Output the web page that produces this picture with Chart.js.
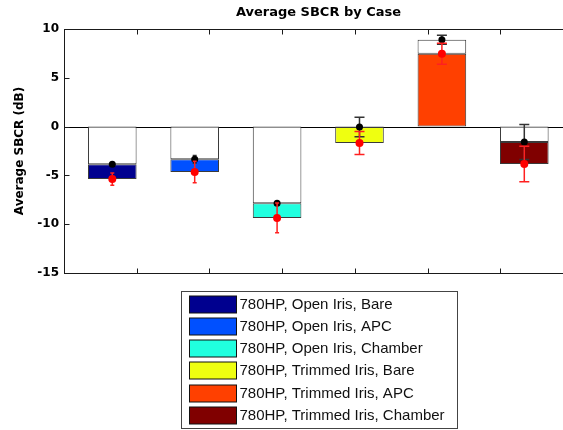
<!DOCTYPE html>
<html>
<head>
<meta charset="utf-8">
<title>Average SBCR by Case</title>
<script src="https://cdn.jsdelivr.net/npm/chart.js@4.4.1/dist/chart.umd.min.js"></script>
<style>
    html, body { margin: 0; padding: 0; background: #fff; }
    body { width: 563px; height: 430px; overflow: hidden; }
    canvas { display: block; }
</style>
</head>
<body>
<canvas id="sbcrChart" width="600" height="430"></canvas>
<script>
// ============================================================================
// DATA
// ============================================================================

const caseLabels = [
    '780HP, Open Iris, Bare',
    '780HP, Open Iris, APC',
    '780HP, Open Iris, Chamber',
    '780HP, Trimmed Iris, Bare',
    '780HP, Trimmed Iris, APC',
    '780HP, Trimmed Iris, Chamber'
];
const caseIndex = [1, 2, 3, 4, 5, 6];

// black markers / white bars
const blackMeans = [-3.86, -3.35, -7.86, -0.05, 8.9, -1.58];
const blackErrors = [0.15, 0.4, 0.15, 1.0, 0.45, 1.8];

// red markers / coloured bars
const redMeans = [-5.38, -4.65, -9.36, -1.68, 7.47, -3.83];
const redErrors = [0.63, 1.1, 1.52, 1.17, 1.08, 1.82];

const yTicks = [10, 5, 0, -5, -10, -15];
const xTickMarks = [0, 1, 2, 3, 4, 5, 6, 7];

// styles
const caseColors = ['#00008f', '#0050ff', '#20ffdf', '#efff10', '#ff4000', '#800000'];
const capHalfWidths = [2, 2, 2, 5, 5, 5];

const TICK_FONT = 'DejaVu Sans';
const LEGEND_FONT = 'Liberation Sans';

// ============================================================================
// BAR SEGMENTS (white part and coloured part of each case)
// ============================================================================

function buildSegments() {
    const white = [];
    const colored = [];
    blackMeans.forEach((b, i) => {
        const r = redMeans[i];
        const x = caseIndex[i];
        if (Math.abs(b) <= Math.abs(r)) {
            white.push({ x: x, y: [0, b] });
            colored.push({ x: x, y: [b, r] });
        } else {
            colored.push({ x: x, y: [0, r] });
            white.push({ x: x, y: [r, b] });
        }
    });
    return { white, colored };
}

// ============================================================================
// PLUGINS
// ============================================================================

// error bars drawn just before their marker dataset
const errorBars = {
    id: 'errorBars',
    beforeDatasetDraw(chart, args) {
        const ds = chart.data.datasets[args.index];
        if (!ds.errors) return;
        const { ctx, scales } = chart;
        ctx.save();
        ctx.strokeStyle = ds.errorColor;
        ctx.lineWidth = 1.5;
        args.meta.data.forEach((pt, i) => {
            const v = ds.data[i].y;
            const e = ds.errors[i];
            const yHi = scales.y.getPixelForValue(v + e);
            const yLo = scales.y.getPixelForValue(v - e);
            const w = capHalfWidths[i];
            ctx.beginPath();
            ctx.moveTo(pt.x, yHi);
            ctx.lineTo(pt.x, yLo);
            ctx.moveTo(pt.x - w, yHi);
            ctx.lineTo(pt.x + w, yHi);
            ctx.moveTo(pt.x - w, yLo);
            ctx.lineTo(pt.x + w, yLo);
            ctx.stroke();
        });
        ctx.restore();
    }
};

// zero baseline, box and inward tick marks
const axesFrame = {
    id: 'axesFrame',
    beforeDatasetsDraw(chart) {
        const { ctx, chartArea: a, scales } = chart;
        const y0 = Math.round(scales.y.getPixelForValue(0)) + 0.5;
        ctx.save();
        ctx.strokeStyle = '#000';
        ctx.lineWidth = 1;
        ctx.beginPath();
        ctx.moveTo(a.left, y0);
        ctx.lineTo(a.right, y0);
        ctx.stroke();
        ctx.restore();
    },
    afterDatasetsDraw(chart) {
        const { ctx, chartArea: a, scales } = chart;
        const L = Math.round(a.left) + 0.5;
        const R = Math.round(a.right) + 0.5;
        const T = Math.round(a.top) + 0.5;
        const B = Math.round(a.bottom) + 0.5;
        ctx.save();
        ctx.strokeStyle = '#1a1a1a';
        ctx.lineWidth = 1;
        ctx.strokeRect(L, T, R - L, B - T);
        ctx.beginPath();
        yTicks.forEach(v => {
            const y = Math.round(scales.y.getPixelForValue(v)) + 0.5;
            ctx.moveTo(L, y);
            ctx.lineTo(L + 5, y);
            ctx.moveTo(R, y);
            ctx.lineTo(R - 5, y);
        });
        xTickMarks.forEach(v => {
            const x = Math.round(scales.x2.getPixelForValue(v)) + 0.5;
            ctx.moveTo(x, B);
            ctx.lineTo(x, B - 5);
            ctx.moveTo(x, T);
            ctx.lineTo(x, T + 5);
        });
        ctx.stroke();
        ctx.restore();
    }
};

// boxed legend under the axes
const caseLegend = {
    id: 'caseLegend',
    afterDraw(chart) {
        const { ctx, chartArea: a } = chart;
        const boxW = 276;
        const boxH = 137;
        const left = Math.round((a.left + a.right) / 2 - boxW / 2) + 0.5;
        const top = Math.round(a.bottom) + 18.5;
        const rowH = 22.3;
        ctx.save();
        ctx.fillStyle = '#fff';
        ctx.fillRect(left, top, boxW, boxH);
        ctx.strokeStyle = '#444';
        ctx.lineWidth = 1;
        ctx.strokeRect(left, top, boxW, boxH);
        ctx.font = '15px "' + LEGEND_FONT + '"';
        ctx.textBaseline = 'middle';
        ctx.textAlign = 'left';
        caseLabels.forEach((label, i) => {
            const sy = Math.round(top + 4 + i * rowH);
            ctx.fillStyle = caseColors[i];
            ctx.fillRect(left + 8, sy, 47, 17);
            ctx.strokeStyle = '#111';
            ctx.strokeRect(left + 8, sy, 47, 17);
            ctx.fillStyle = '#111';
            ctx.fillText(label, left + 58, sy + 9);
        });
        ctx.restore();
    }
};

// ============================================================================
// CHART
// ============================================================================

function initChart() {
    const ctx = document.getElementById('sbcrChart');
    const seg = buildSegments();

    new Chart(ctx, {
        type: 'bar',
        data: {
            datasets: [
                {
                    label: 'white',
                    data: seg.white,
                    backgroundColor: '#ffffff',
                    borderColor: '#3a3a3a',
                    borderWidth: 1,
                    borderSkipped: false,
                    stack: 'cases',
                    order: 4
                },
                {
                    label: 'colored',
                    data: seg.colored,
                    backgroundColor: caseColors,
                    borderColor: '#3a3a3a',
                    borderWidth: 1,
                    borderSkipped: false,
                    stack: 'cases',
                    order: 3
                },
                {
                    type: 'scatter',
                    label: 'black',
                    data: caseIndex.map((x, i) => ({ x: x, y: blackMeans[i] })),
                    errors: blackErrors,
                    errorColor: '#333',
                    pointRadius: 3.5,
                    pointBackgroundColor: '#000',
                    pointBorderColor: '#000',
                    pointBorderWidth: 0,
                    order: 2
                },
                {
                    type: 'scatter',
                    label: 'red',
                    data: caseIndex.map((x, i) => ({ x: x, y: redMeans[i] })),
                    errors: redErrors,
                    errorColor: '#ff2020',
                    pointRadius: 4,
                    pointBackgroundColor: '#ff0000',
                    pointBorderColor: '#ff0000',
                    pointBorderWidth: 0,
                    order: 1
                }
            ]
        },
        options: {
            responsive: false,
            animation: false,
            layout: {
                padding: { top: 0, right: 27, bottom: 157, left: 0 }
            },
            barPercentage: 0.59,
            categoryPercentage: 1,
            plugins: {
                legend: { display: false },
                tooltip: { enabled: false },
                title: {
                    display: true,
                    text: 'Average SBCR by Case',
                    fullSize: false,
                    color: '#000',
                    font: { family: TICK_FONT, size: 13, weight: 'bold' },
                    padding: { top: 5, bottom: 8.4 }
                }
            },
            scales: {
                x: {
                    type: 'linear',
                    display: false,
                    offset: false,
                    min: 0.414,
                    max: 6.591,
                    ticks: { stepSize: 1, includeBounds: false }
                },
                x2: {
                    type: 'linear',
                    axis: 'x',
                    display: false,
                    offset: false,
                    min: xTickMarks[0],
                    max: xTickMarks[xTickMarks.length - 1],
                    ticks: { stepSize: 1 }
                },
                y: {
                    stacked: false,
                    min: Math.min(...yTicks),
                    max: Math.max(...yTicks),
                    grid: { display: false, drawTicks: false },
                    border: { display: false },
                    ticks: {
                        stepSize: yTicks[0] - yTicks[1],
                        padding: 5,
                        color: '#000',
                        font: { family: TICK_FONT, size: 12, weight: 'bold' }
                    },
                    title: {
                        display: true,
                        text: 'Average SBCR (dB)',
                        color: '#000',
                        font: { family: TICK_FONT, size: 12, weight: 'bold' },
                        padding: { top: 13, bottom: 0 }
                    },
                    afterFit(scale) {
                        scale.width = 64;
                    }
                }
            }
        },
        plugins: [errorBars, axesFrame, caseLegend]
    });
}

document.addEventListener('DOMContentLoaded', initChart);
</script>
</body>
</html>
